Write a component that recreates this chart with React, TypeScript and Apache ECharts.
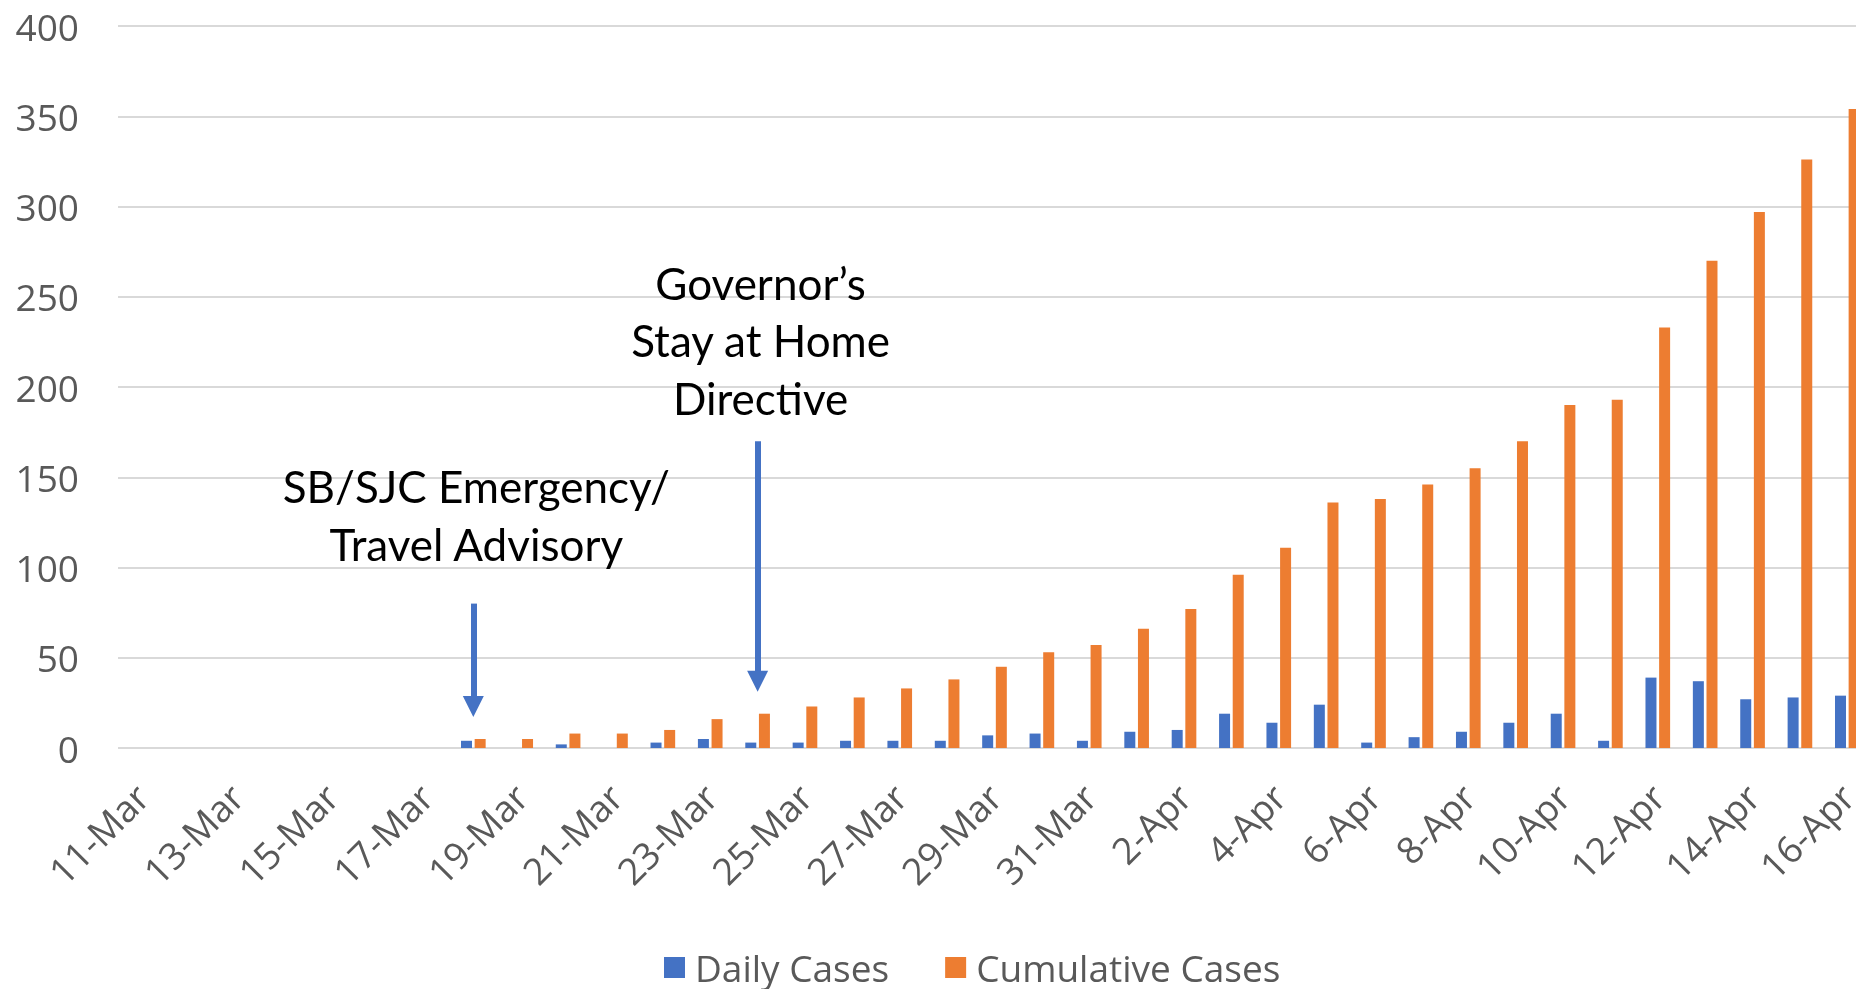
import React, { useEffect, useRef } from 'react';
import * as echarts from 'echarts';

const categories = [
  '11-Mar', '12-Mar', '13-Mar', '14-Mar', '15-Mar', '16-Mar', '17-Mar', '18-Mar', '19-Mar', '20-Mar',
  '21-Mar', '22-Mar', '23-Mar', '24-Mar', '25-Mar', '26-Mar', '27-Mar', '28-Mar', '29-Mar', '30-Mar',
  '31-Mar', '1-Apr', '2-Apr', '3-Apr', '4-Apr', '5-Apr', '6-Apr', '7-Apr', '8-Apr', '9-Apr',
  '10-Apr', '11-Apr', '12-Apr', '13-Apr', '14-Apr', '15-Apr', '16-Apr',
];

const dailyCases = [
  0, 0, 0, 0, 0, 0, 0, 4, 0, 2,
  0, 3, 5, 3, 3, 4, 4, 4, 7, 8,
  4, 9, 10, 19, 14, 24, 3, 6, 9, 14,
  19, 4, 39, 37, 27, 28, 29,
];

const cumulativeCases = [
  0, 0, 0, 0, 0, 0, 0, 5, 5, 8,
  8, 10, 16, 19, 23, 28, 33, 38, 45, 53,
  57, 66, 77, 96, 111, 136, 138, 146, 155, 170,
  190, 193, 233, 270, 297, 326, 354,
];

const seriesNames = ['Daily Cases', 'Cumulative Cases'];
const seriesColors = ['#4472C4', '#ED7D31'];

const yMin = 0;
const yMax = 400;
const yInterval = 50;

// annotations (date, arrow start value, arrow end value, label value)
const noteDates = ['18-Mar', '24-Mar'];
const arrowFrom = [80, 170];
const arrowTo = [23, 37];
const noteValues = [129, 226];
const noteTexts = ['SB/SJC Emergency/\nTravel Advisory', 'Governor\u2019s\nStay at Home\nDirective'];

export default function App() {
  const ref = useRef<HTMLDivElement>(null);

  useEffect(() => {
    const chart = echarts.init(ref.current as HTMLDivElement, null, { renderer: 'svg' });
    const axisFont = 'Open Sans';
    const option = {
      animation: false,
      grid: { left: 118, right: 0, top: 26, bottom: 241, containLabel: false },
      legend: {
        data: seriesNames,
        left: 659,
        top: 944,
        icon: 'rect',
        itemWidth: 21,
        itemHeight: 21,
        itemGap: 56,
        textStyle: { fontSize: 37, lineHeight: 36, color: '#595959', fontFamily: axisFont, padding: [0, 0, 0, 5] },
      },
      xAxis: {
        type: 'category',
        data: categories,
        axisLine: { show: false },
        axisTick: { show: false },
        axisLabel: {
          interval: 1,
          rotate: 45,
          margin: 42,
          fontSize: 37,
          color: '#595959',
          fontFamily: axisFont,
        },
      },
      yAxis: {
        type: 'value',
        min: yMin,
        max: yMax,
        interval: yInterval,
        axisLine: { show: false },
        axisTick: { show: false },
        splitLine: { lineStyle: { color: '#D9D9D9', width: 2 } },
        axisLabel: { fontSize: 37, color: '#595959', fontFamily: axisFont, margin: 39 },
      },
      series: [
        {
          name: seriesNames[0],
          type: 'bar',
          data: dailyCases,
          barWidth: 11,
          barGap: '24%',
          itemStyle: { color: seriesColors[0] },
        },
        {
          name: seriesNames[1],
          type: 'bar',
          data: cumulativeCases,
          barWidth: 11,
          barGap: '24%',
          itemStyle: { color: seriesColors[1] },
        },
        {
          name: 'annotations',
          type: 'line',
          data: [],
          silent: true,
          markLine: {
            silent: true,
            symbol: ['none', 'triangle'],
            symbolSize: [21, 21],
            lineStyle: { color: seriesColors[0], width: 6, type: 'solid' },
            label: { show: false },
            emphasis: { disabled: true },
            data: noteDates.map((d, i) => [
              { coord: [d, arrowFrom[i]] },
              { coord: [d, arrowTo[i]] },
            ]),
          },
        },
      ],
    };
    chart.setOption(option);

    const graphics = noteTexts.map((t, i) => {
      const p = chart.convertToPixel({ gridIndex: 0 }, [categories.indexOf(noteDates[i]), noteValues[i]]) as number[];
      return {
        type: 'text',
        x: p[0] + 3,
        y: p[1],
        style: {
          text: t,
          fontFamily: 'Lato',
          fontSize: 44,
          lineHeight: 57.5,
          fill: '#000000',
          align: 'center',
          verticalAlign: 'middle',
        },
      };
    });
    chart.setOption({ graphic: graphics });

    return () => chart.dispose();
  }, []);

  return <div ref={ref} style={{ position: 'fixed', left: 0, top: 0, width: 1871, height: 989 }} />;
}
